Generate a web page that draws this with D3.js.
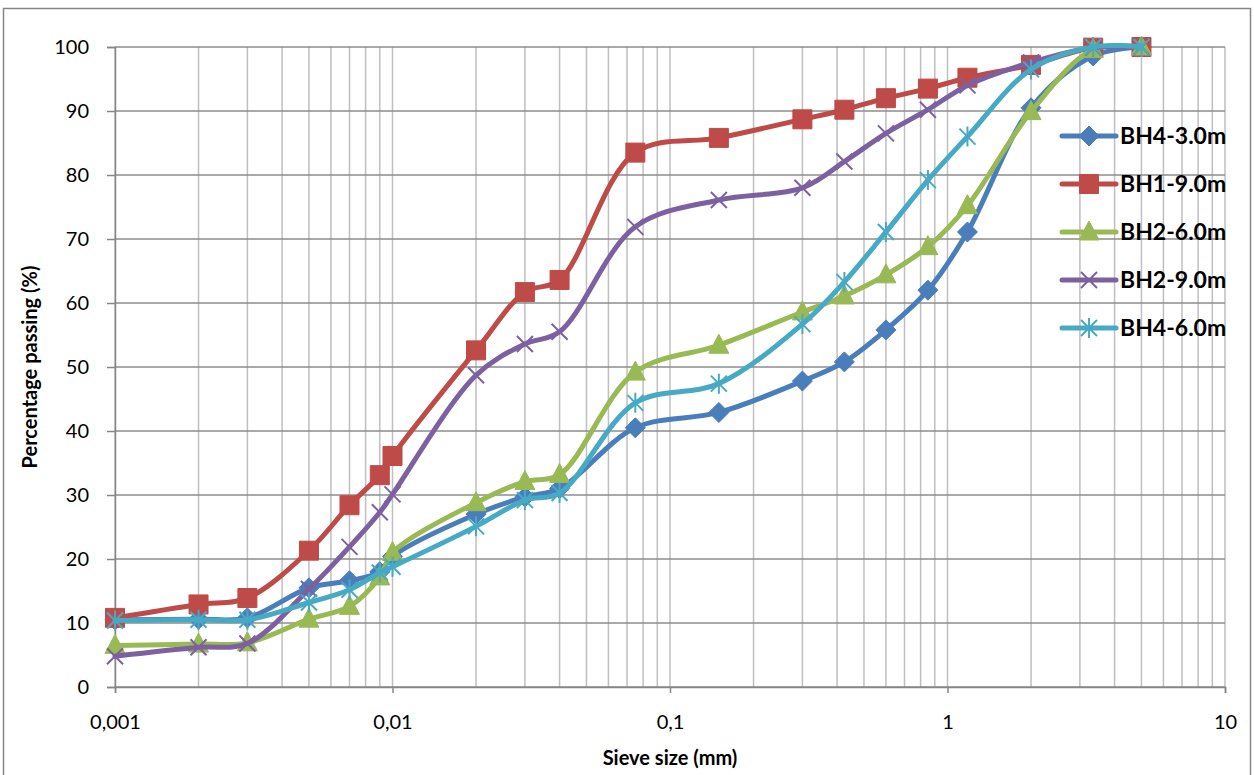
<!DOCTYPE html>
<html>
<head>
<meta charset="utf-8">
<script src="https://cdn.jsdelivr.net/npm/d3@7"></script>
<style>
  body { margin: 0; background: #fff; }
  text { font-family: Lato, "Open Sans", sans-serif; fill: #000; }
</style>
</head>
<body>
<div id="chart"></div>
<script>
// sieve sizes (mm) shared by every sample
var sieveSizes = [0.001, 0.002, 0.003, 0.005, 0.007, 0.009, 0.01, 0.02, 0.03, 0.04,
  0.075, 0.15, 0.3, 0.425, 0.6, 0.85, 1.18, 2, 3.35, 5];

// percentage passing
var bh4_30 = [10.5, 10.6, 10.8, 15.5, 16.6, 18, 20.4, 27, 29.7, 31, 40.5, 42.9, 47.8, 50.8, 55.8, 62, 71.1, 90.5, 98.6, 100];
var bh1_90 = [10.8, 12.9, 13.9, 21.3, 28.4, 33.1, 36.1, 52.6, 61.7, 63.6, 83.5, 85.8, 88.7, 90.2, 92, 93.5, 95.2, 97.2, 99.9, 100];
var bh2_60 = [6.5, 6.7, 6.9, 10.6, 12.6, 17.2, 21, 28.8, 32.1, 33.2, 49.2, 53.4, 58.6, 61.1, 64.4, 68.8, 75.2, 89.9, 99.6, 100];
var bh2_90 = [4.8, 6.2, 6.8, 15.3, 21.9, 27.3, 30.1, 48.7, 53.6, 55.5, 71.9, 76.1, 78, 82.1, 86.5, 90.2, 94, 97.6, 99.9, 100];
var bh4_60 = [10.4, 10.5, 10.5, 13.2, 15.2, 17.9, 18.8, 25.1, 29.2, 30.3, 44.4, 47.4, 56.7, 63.3, 71.1, 79.2, 86, 96.5, 100, 100];

var seriesNames = ["BH4-3.0m", "BH1-9.0m", "BH2-6.0m", "BH2-9.0m", "BH4-6.0m"];
var seriesValues = [bh4_30, bh1_90, bh2_60, bh2_90, bh4_60];
var colors = ["#4a7ebb", "#be4b48", "#98b954", "#7d60a0", "#46aac5"];
var markers = ["diamond", "square", "triangle", "cross", "star"];

var xTicks = [0.001, 0.01, 0.1, 1, 10];
var yTicks = [0, 10, 20, 30, 40, 50, 60, 70, 80, 90, 100];

var svgWidth = 1254;
var svgHeight = 775;
var margin = { top: 47, right: 29, bottom: 88, left: 115 };
var width = svgWidth - margin.left - margin.right;
var height = svgHeight - margin.top - margin.bottom;

var svg = d3.select("#chart")
  .append("svg")
  .attr("width", svgWidth)
  .attr("height", svgHeight);

// outer frame (bottom is cut off in the picture)
svg.append("rect")
  .attr("x", 3.5).attr("y", 8.5)
  .attr("width", 1247).attr("height", 800)
  .attr("fill", "none")
  .attr("stroke", "#868686")
  .attr("stroke-width", 1.5);

var chartGroup = svg.append("g")
  .attr("transform", `translate(${margin.left}, ${margin.top})`);

var xScale = d3.scaleLog()
  .domain([0.001, 10])
  .range([0, width]);

var yScale = d3.scaleLinear()
  .domain([0, 100])
  .range([height, 0]);

// minor + major vertical grid
var minorX = [];
for (var e = -3; e < 1; e++) {
  for (var m = 1; m < 10; m++) minorX.push(m * Math.pow(10, e));
}
minorX.push(10);

chartGroup.append("g")
  .selectAll("line")
  .data(minorX)
  .enter()
  .append("line")
  .attr("x1", d => xScale(d)).attr("x2", d => xScale(d))
  .attr("y1", 0).attr("y2", height)
  .attr("stroke", "#bfbfbf")
  .attr("stroke-width", 1.5);

// horizontal grid
chartGroup.append("g")
  .selectAll("line")
  .data(yTicks)
  .enter()
  .append("line")
  .attr("x1", 0).attr("x2", width)
  .attr("y1", d => yScale(d)).attr("y2", d => yScale(d))
  .attr("stroke", "#8c8c8c")
  .attr("stroke-width", 1.5);

// axes
var bottomAxis = d3.axisBottom(xScale)
  .tickValues(xTicks)
  .tickFormat(d => String(d).replace(".", ","))
  .tickSizeOuter(0)
  .tickSize(6)
  .tickPadding(22);

var leftAxis = d3.axisLeft(yScale)
  .tickValues(yTicks)
  .tickSizeOuter(0)
  .tickSize(8)
  .tickPadding(18);

var xAxisG = chartGroup.append("g")
  .attr("transform", `translate(0, ${height})`)
  .call(bottomAxis);

var yAxisG = chartGroup.append("g")
  .call(leftAxis);

[xAxisG, yAxisG].forEach(function(g) {
  g.select(".domain").attr("stroke", "#868686").attr("stroke-width", 1.5);
  g.selectAll(".tick line").attr("stroke", "#868686").attr("stroke-width", 1.5);
  g.selectAll(".tick text")
    .attr("font-size", "20px")
    .attr("font-family", "Lato, sans-serif")
    .attr("fill", "#000");
});

// marker shapes
function markerPath(type) {
  switch (type) {
    case "diamond": return "M0,-10L10,0L0,10L-10,0Z";
    case "square": return "M-9.5,-9.5H9.5V9.5H-9.5Z";
    case "triangle": return "M0,-11L10,8L-10,8Z";
    case "cross": return "M-8,-8L8,8M-8,8L8,-8";
    case "star": return "M-8,-8L8,8M-8,8L8,-8M0,-10V10";
  }
}
function drawMarker(g, type, color) {
  var filled = type === "diamond" || type === "square" || type === "triangle";
  g.append("path")
    .attr("d", markerPath(type))
    .attr("fill", filled ? color : "none")
    .attr("stroke", color)
    .attr("stroke-width", filled ? 1 : 2);
}

var line = d3.line()
  .x(d => xScale(d[0]))
  .y(d => yScale(d[1]))
  .curve(d3.curveCatmullRom.alpha(0.5));

seriesValues.forEach(function(vals, i) {
  var pts = sieveSizes.map((s, j) => [s, vals[j]]);
  var g = chartGroup.append("g");
  g.append("path")
    .datum(pts)
    .attr("d", line)
    .attr("fill", "none")
    .attr("stroke", colors[i])
    .attr("stroke-width", 5)
    .attr("stroke-linejoin", "round")
    .attr("stroke-linecap", "round");
  g.selectAll(".pt")
    .data(pts)
    .enter()
    .append("g")
    .attr("transform", d => `translate(${xScale(d[0])}, ${yScale(d[1])})`)
    .each(function() { drawMarker(d3.select(this), markers[i], colors[i]); });
});

// legend
var legend = svg.append("g")
  .attr("transform", "translate(1062, 136)");

seriesNames.forEach(function(name, i) {
  var row = legend.append("g").attr("transform", `translate(0, ${i * 48})`);
  row.append("line")
    .attr("x1", 0).attr("x2", 54)
    .attr("stroke", colors[i])
    .attr("stroke-width", 5)
    .attr("stroke-linecap", "round");
  var mk = row.append("g").attr("transform", "translate(27, 0)");
  drawMarker(mk, markers[i], colors[i]);
  row.append("text")
    .attr("x", 58)
    .attr("y", 0)
    .attr("dy", "0.35em")
    .attr("font-size", "23px")
    .attr("font-weight", "bold")
    .text(name);
});

// axis labels
chartGroup.append("text")
  .attr("transform", "rotate(-90)")
  .attr("x", 0 - 320)
  .attr("y", 30 - margin.left)
  .attr("dy", "0.35em")
  .attr("text-anchor", "middle")
  .attr("font-size", "20px")
  .attr("font-weight", "bold")
  .text("Percentage passing (%)");

chartGroup.append("text")
  .attr("x", width / 2)
  .attr("y", height + 71)
  .attr("dy", "0.35em")
  .attr("text-anchor", "middle")
  .attr("font-size", "20px")
  .attr("font-weight", "bold")
  .text("Sieve size (mm)");
</script>
</body>
</html>
